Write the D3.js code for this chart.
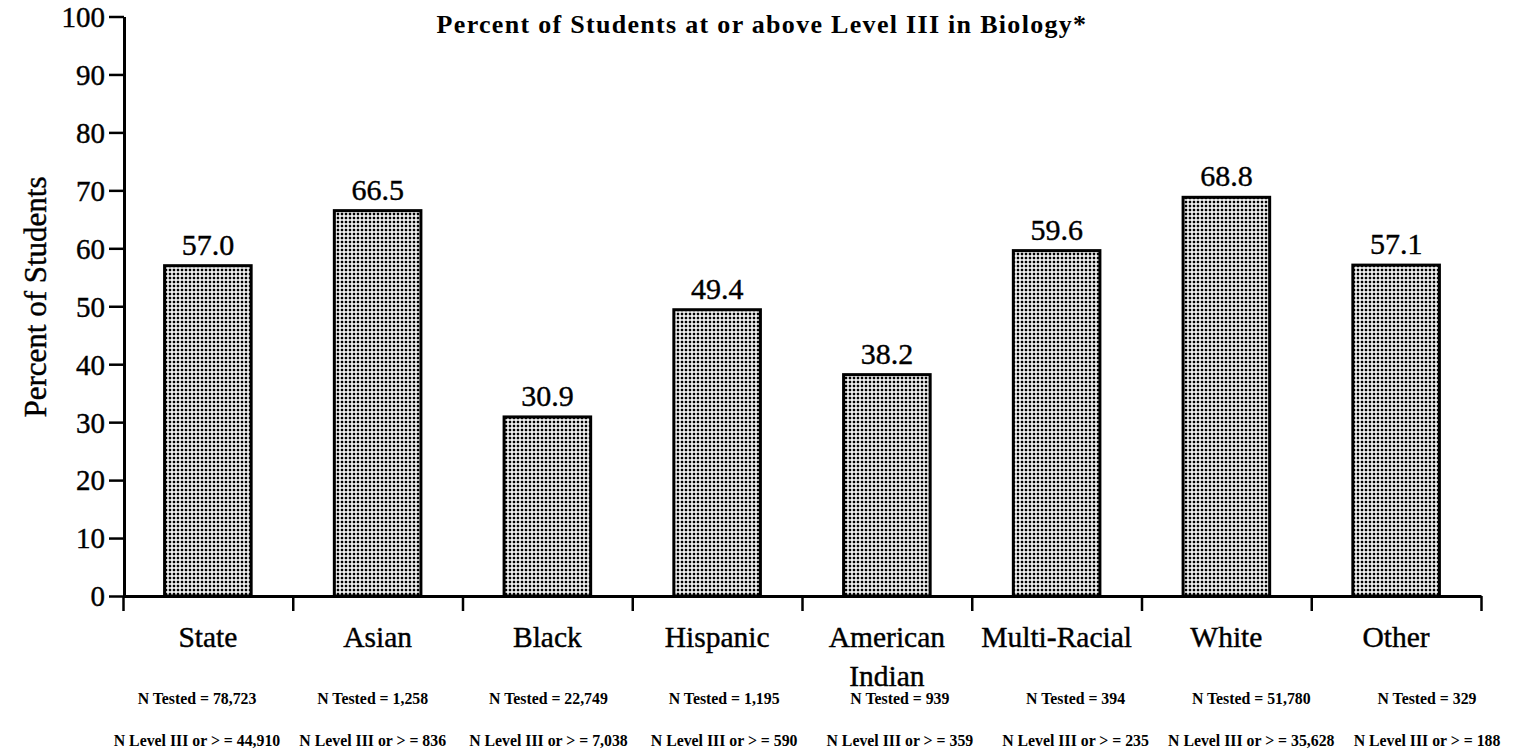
<!DOCTYPE html>
<html>
<head>
<meta charset="utf-8">
<script src="https://cdn.jsdelivr.net/npm/d3@7/dist/d3.min.js"></script>
<style>
  html, body { margin: 0; padding: 0; background: #fff; }
  svg { display: block; }
  text { font-family: "Liberation Serif", "Times New Roman", serif; fill: #000; }
  .heavy { stroke: #000; stroke-width: 0.4px; }
</style>
</head>
<body>
<svg id="chart" width="1517" height="751"></svg>
<script>
// Student groups, percent at or above Level III, and testing counts
const categories = ["State", "Asian", "Black", "Hispanic", "American Indian", "Multi-Racial", "White", "Other"];
const categoryLines = [["State"], ["Asian"], ["Black"], ["Hispanic"], ["American", "Indian"], ["Multi-Racial"], ["White"], ["Other"]];
const percentLevel3 = [57.0, 66.5, 30.9, 49.4, 38.2, 59.6, 68.8, 57.1];
const nTested = ["78,723", "1,258", "22,749", "1,195", "939", "394", "51,780", "329"];
const nLevel3 = ["44,910", "836", "7,038", "590", "359", "235", "35,628", "188"];
const yTicks = [0, 10, 20, 30, 40, 50, 60, 70, 80, 90, 100];

const svg = d3.select("#chart");

// Dotted fill used inside the bars
const defs = svg.append("defs");
const pat = defs.append("pattern")
  .attr("id", "dots")
  .attr("patternUnits", "userSpaceOnUse")
  .attr("width", 4).attr("height", 4);
pat.append("rect").attr("width", 4).attr("height", 4).attr("fill", "#fff");
pat.append("rect").attr("x", 0.75).attr("y", 0.75).attr("width", 2.5).attr("height", 2.5).attr("fill", "#000");

const x = d3.scaleBand()
  .domain(categories)
  .range([123, 1481])
  .paddingInner(0.49)
  .paddingOuter(0.245);

const y = d3.scaleLinear().domain([0, 100]).range([596, 16.5]);

// Positions of the count notes under each group
const xNote = d3.scalePoint().domain(categories).range([197, 1427]);

// Title
svg.append("text")
  .attr("x", 762).attr("y", 33)
  .attr("text-anchor", "middle")
  .attr("font-size", 26).attr("font-weight", "bold")
  .attr("letter-spacing", 1.3)
  .text("Percent of Students at or above Level III in Biology*");

// Y axis title
svg.append("text")
  .attr("class", "heavy")
  .attr("transform", "translate(46,297) rotate(-90)")
  .attr("text-anchor", "middle")
  .attr("font-size", 31)
  .text("Percent of Students");

// Bars
const rows = categories.map((c, i) => ({ c, v: percentLevel3[i], lines: categoryLines[i], t: nTested[i], l: nLevel3[i] }));

svg.append("g").selectAll("rect")
  .data(rows)
  .join("rect")
  .attr("x", d => x(d.c))
  .attr("y", d => y(d.v))
  .attr("width", x.bandwidth())
  .attr("height", d => y(0) - y(d.v))
  .attr("fill", "url(#dots)")
  .attr("stroke", "#000")
  .attr("stroke-width", 3);

// Value labels above bars
svg.append("g").selectAll("text")
  .data(rows)
  .join("text")
  .attr("class", "heavy")
  .attr("x", d => x(d.c) + x.bandwidth() / 2)
  .attr("y", d => y(d.v) - 11)
  .attr("text-anchor", "middle")
  .attr("font-size", 30)
  .text(d => d.v.toFixed(1));

// Y axis
const yAxis = svg.append("g")
  .attr("transform", "translate(124,0)")
  .call(d3.axisLeft(y).tickValues(yTicks).tickSize(15).tickSizeOuter(0).tickPadding(4));
yAxis.select(".domain").attr("stroke", "#000").attr("stroke-width", 3);
yAxis.selectAll(".tick line").attr("stroke", "#000").attr("stroke-width", 2.5);
yAxis.selectAll(".tick text")
  .attr("class", "heavy")
  .attr("font-family", "Liberation Serif, Times New Roman, serif")
  .attr("font-size", 29).attr("fill", "#000").attr("dy", "0.34em");

// X axis with ticks on the group boundaries
const xEdges = d3.scaleLinear().domain([0, categories.length]).range(x.range());
const xAxis = svg.append("g")
  .attr("transform", `translate(0,${y(0)})`)
  .call(d3.axisBottom(xEdges).ticks(categories.length).tickSize(15).tickSizeOuter(0).tickFormat(""));
xAxis.select(".domain").attr("stroke", "#000").attr("stroke-width", 3);
xAxis.selectAll(".tick line").attr("stroke", "#000").attr("stroke-width", 2.5);

// Group names
const names = svg.append("g").selectAll("text")
  .data(rows)
  .join("text")
  .attr("class", "heavy")
  .attr("x", d => x(d.c) + x.bandwidth() / 2)
  .attr("y", 647)
  .attr("text-anchor", "middle")
  .attr("font-size", 29.5);
names.selectAll("tspan")
  .data(d => d.lines.map(s => ({ s, cx: x(d.c) + x.bandwidth() / 2 })))
  .join("tspan")
  .attr("x", t => t.cx)
  .attr("dy", (t, i) => i === 0 ? 0 : 39)
  .text(t => t.s);

// Count notes
svg.append("g").selectAll("text")
  .data(rows)
  .join("text")
  .attr("x", d => xNote(d.c))
  .attr("y", 704)
  .attr("text-anchor", "middle")
  .attr("font-size", 15.8).attr("font-weight", "bold")
  .text(d => `N Tested = ${d.t}`);

svg.append("g").selectAll("text")
  .data(rows)
  .join("text")
  .attr("x", d => xNote(d.c))
  .attr("y", 746)
  .attr("text-anchor", "middle")
  .attr("font-size", 15.8).attr("font-weight", "bold")
  .text(d => `N Level III or > = ${d.l}`);
</script>
</body>
</html>
